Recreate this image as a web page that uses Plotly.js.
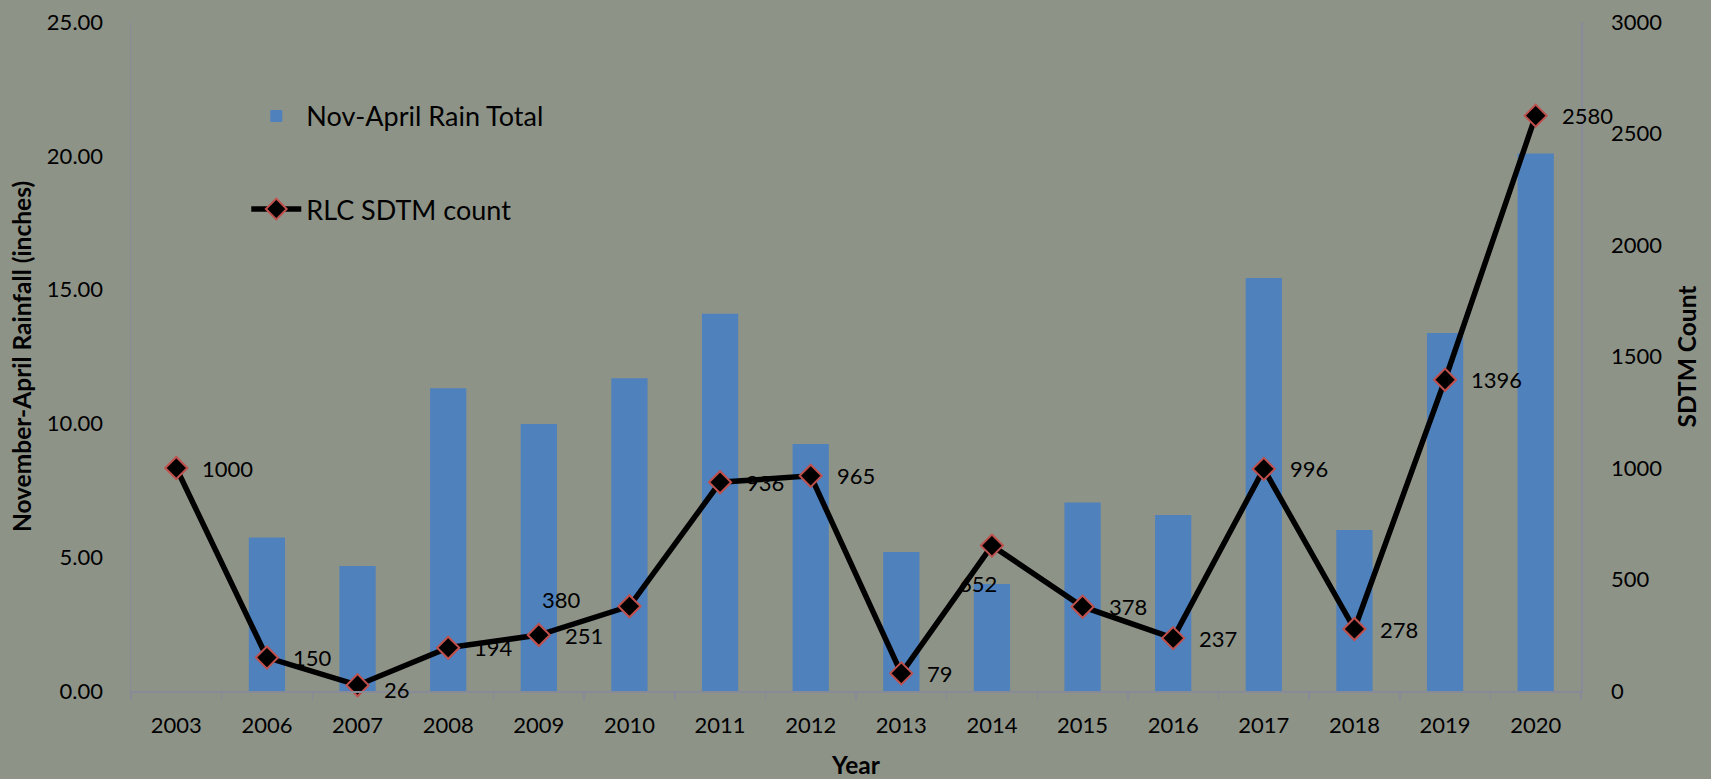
<!DOCTYPE html>
<html>
<head>
<meta charset="utf-8">
<script src="https://cdn.plot.ly/plotly-3.0.1.min.js"></script>
<style>
  html, body { margin: 0; padding: 0; background: #8e9388; }
  #chart { width: 1711px; height: 779px; }
</style>
</head>
<body>
<div id="chart"></div>
<script>
// ---- data ----
const years = ["2003", "2006", "2007", "2008", "2009", "2010", "2011", "2012",
               "2013", "2014", "2015", "2016", "2017", "2018", "2019", "2020"];
const rainTotal = [null, 5.74, 4.67, 11.31, 9.98, 11.69, 14.10, 9.23,
                   5.19, 4.00, 7.04, 6.58, 15.43, 6.02, 13.38, 20.09];
const sdtmCount = [1000, 150, 26, 194, 251, 380, 936, 965,
                   79, 652, 378, 237, 996, 278, 1396, 2580];
const rainName = "Nov-April Rain Total";
const countName = "RLC SDTM count";

// ---- styling ----
const FONT = "Lato, 'Open Sans', sans-serif";
const AXIS_COLOR = "#878a97";
const labelPlacement = {   // label placement tweaks (by year)
  "2010": { xanchor: "right", xshift: -46, yshift: 7 },
  "2014": { xanchor: "center", xshift: -14, yshift: -38 },
  "2007": { xanchor: "left", xshift: 24, yshift: -4 }
};

const barTrace = {
  type: "bar",
  name: rainName,
  legendgroup: "rain",
  x: years,
  y: rainTotal,
  marker: { color: "#4f81bd" },
  xaxis: "x",
  yaxis: "y"
};

const lineTrace = {
  type: "scatter",
  mode: "lines+markers",
  name: countName,
  legendgroup: "count",
  x: years,
  y: sdtmCount,
  xaxis: "x",
  yaxis: "y2",
  line: { color: "#000000", width: 5.5 },
  marker: { symbol: "diamond", size: 17, color: "#000000",
            line: { color: "#c0504d", width: 2 } },
  cliponaxis: false
};

// category axis: annotations refer to the category index
const annotations = years.map((yr, i) => {
  const p = labelPlacement[yr] || { xanchor: "left", xshift: 24, yshift: 0 };
  return {
    x: i, y: sdtmCount[i], xref: "x", yref: "y2",
    text: String(sdtmCount[i]),
    showarrow: false,
    xanchor: p.xanchor, yanchor: "middle",
    xshift: p.xshift, yshift: p.yshift,
    font: { family: FONT, size: 22, color: "#000000" }
  };
});

const TITLE_FONT = { family: FONT, size: 24.5, color: "#000000", weight: "bold" };

const layout = {
  width: 1711, height: 779,
  paper_bgcolor: "#8e9388",
  plot_bgcolor: "rgba(0,0,0,0)",
  margin: { l: 131, r: 130, t: 22, b: 88, autoexpand: false },
  font: { family: FONT, size: 22, color: "#000000" },
  bargap: 0.6,
  showlegend: true,
  legend: {
    x: 0.0795, y: 0.8955, xanchor: "left", yanchor: "top",
    bgcolor: "rgba(0,0,0,0)",
    font: { family: FONT, size: 27, color: "#000000" },
    traceorder: "grouped",
    tracegroupgap: 55,
    itemwidth: 50
  },
  xaxis: {
    type: "category",
    categoryorder: "array", categoryarray: years,
    range: [-0.5, years.length - 0.5],
    showline: true, linecolor: AXIS_COLOR, linewidth: 1.5,
    ticks: "outside", tickson: "boundaries", ticklen: 7,
    tickcolor: AXIS_COLOR, tickwidth: 1.5,
    ticklabelstandoff: 14, tickangle: 0,
    showgrid: false, zeroline: false,
    tickfont: { family: FONT, size: 22, color: "#000000" },
    title: { text: "Year", standoff: 28, font: TITLE_FONT }
  },
  yaxis: {
    range: [0, 25], dtick: 5, tickformat: ".2f",
    showline: true, linecolor: AXIS_COLOR, linewidth: 1.5,
    ticks: "", ticklabelstandoff: 22,
    showgrid: false, zeroline: false,
    tickfont: { family: FONT, size: 22, color: "#000000" },
    title: { text: "November-April Rainfall (inches)", standoff: 8, font: TITLE_FONT }
  },
  yaxis2: {
    range: [0, 3000], dtick: 500,
    overlaying: "y", side: "right", anchor: "x",
    showline: true, linecolor: AXIS_COLOR, linewidth: 1.5,
    ticks: "", ticklabelstandoff: 24,
    showgrid: false, zeroline: false,
    tickfont: { family: FONT, size: 22, color: "#000000" },
    title: { text: "SDTM Count", standoff: 17, font: TITLE_FONT }
  },
  annotations: annotations
};

Plotly.newPlot("chart", [barTrace, lineTrace], layout,
               { displayModeBar: false, staticPlot: true });
</script>
</body>
</html>
